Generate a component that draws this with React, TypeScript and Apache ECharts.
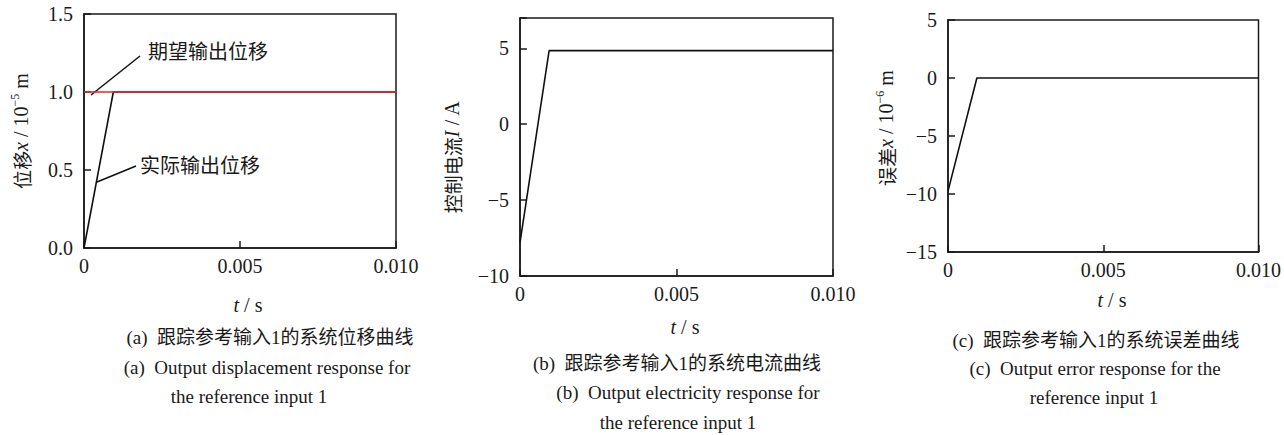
import React, { useEffect, useRef } from "react";
import * as echarts from "echarts";

// ---- data ----
const timeA = [0, 0.00094, 0.01];
const actualDisp = [0, 1.0, 1.0];
const timeDesired = [0, 0.01];
const desiredDisp = [1.0, 1.0];

const timeB = [0, 0.00093, 0.01];
const currentI = [-7.8, 4.85, 4.85];

const timeC = [0, 0.00093, 0.01];
const errorX = [-9.75, 0, 0];

const xTicks = [0, 0.005, 0.01];

const SERIF = "'Liberation Serif', 'Times New Roman', 'Noto Sans CJK SC', serif";
const CJK = "'Noto Sans CJK SC', 'Liberation Serif', serif";

const pairs = (xs: number[], ys: number[]) => xs.map((x, i) => [x, ys[i]]);
const minusFmt = (v: number) => (v < 0 ? "\u2212" + Math.abs(v) : String(v));

export default function App() {
  const ref = useRef<HTMLDivElement>(null);
  useEffect(() => {
    if (!ref.current) return;
    const chart = echarts.init(ref.current, undefined, { renderer: "svg" });

    const axisLineStyle = { color: "#1a1a1a", width: 1.5 };
    const mkX = (gi: number) => ({
      type: "value",
      gridIndex: gi,
      min: 0,
      max: 0.01,
      interval: 0.005,
      axisLine: { show: true, onZero: false, lineStyle: axisLineStyle },
      axisTick: { show: true, inside: true, length: 7, lineStyle: axisLineStyle },
      axisLabel: {
        margin: 8,
        fontSize: 20,
        fontFamily: SERIF,
        color: "#1a1a1a",
        formatter: (v: number) => (v === 0 ? "0" : v.toFixed(3)),
      },
      splitLine: { show: false },
    });
    const mkY = (gi: number, min: number, max: number, interval: number, fmt: (v: number) => string) => ({
      type: "value",
      gridIndex: gi,
      min,
      max,
      interval,
      axisLine: { show: true, onZero: false, lineStyle: axisLineStyle },
      axisTick: { show: true, inside: true, length: 7, lineStyle: axisLineStyle },
      axisLabel: { margin: 11, fontSize: 20, fontFamily: SERIF, color: "#1a1a1a", formatter: fmt },
      splitLine: { show: false },
    });

    const grid = (left: number, top: number, width: number, height: number) => ({
      left,
      top,
      width,
      height,
      show: true,
      borderColor: "#1a1a1a",
      borderWidth: 1.5,
      backgroundColor: "transparent",
    });

    const rich = {
      c: { fontFamily: CJK, fontSize: 19, fill: "#1a1a1a", lineHeight: 24 },
      i: { fontFamily: SERIF, fontStyle: "italic", fontSize: 20, fill: "#1a1a1a", lineHeight: 24 },
      n: { fontFamily: SERIF, fontSize: 20, fill: "#1a1a1a", lineHeight: 24 },
      s: { fontFamily: SERIF, fontSize: 12, fill: "#1a1a1a", verticalAlign: "top", lineHeight: 12 },
    };

    const txt = (x: number, y: number, text: string, extra: any = {}) => ({
      type: "text",
      x,
      y,
      style: {
        text,
        fontFamily: SERIF,
        fontSize: 19,
        fill: "#1a1a1a",
        align: "center",
        verticalAlign: "middle",
        ...extra,
      },
    });
    const richTxt = (x: number, y: number, text: string, rotation = 0) => ({
      type: "text",
      x,
      y,
      rotation,
      style: { text, rich, align: "center", verticalAlign: "middle" },
    });

    const option: any = {
      animation: false,
      backgroundColor: "#ffffff",
      grid: [grid(84, 14, 312, 234), grid(520, 18, 313, 258), grid(948, 20, 312, 232)],
      xAxis: [mkX(0), mkX(1), mkX(2)],
      yAxis: [
        mkY(0, 0, 1.5, 0.5, (v: number) => v.toFixed(1)),
        mkY(1, -10, 7, 5, (v: number) => (Math.abs(v % 5) < 1e-9 ? minusFmt(v) : "")),
        mkY(2, -15, 5, 5, minusFmt),
      ],
      series: [
        {
          type: "line",
          xAxisIndex: 0,
          yAxisIndex: 0,
          data: pairs(timeA, actualDisp),
          showSymbol: false,
          lineStyle: { color: "#111", width: 1.6 },
        },
        {
          type: "line",
          xAxisIndex: 0,
          yAxisIndex: 0,
          data: pairs(timeDesired, desiredDisp),
          showSymbol: false,
          lineStyle: { color: "#e8262b", width: 1.6 },
        },
        {
          type: "line",
          xAxisIndex: 1,
          yAxisIndex: 1,
          data: pairs(timeB, currentI),
          showSymbol: false,
          lineStyle: { color: "#111", width: 1.6 },
        },
        {
          type: "line",
          xAxisIndex: 2,
          yAxisIndex: 2,
          data: pairs(timeC, errorX),
          showSymbol: false,
          lineStyle: { color: "#111", width: 1.6 },
        },
      ],
      graphic: [
        // annotations panel (a)
        { type: "line", shape: { x1: 91, y1: 95, x2: 140, y2: 56 }, style: { stroke: "#111", lineWidth: 1.5 } },
        { type: "line", shape: { x1: 97, y1: 182, x2: 136, y2: 166 }, style: { stroke: "#111", lineWidth: 1.5 } },
        txt(148, 50, "期望输出位移", { align: "left", fontFamily: CJK, fontSize: 20 }),
        txt(140, 164, "实际输出位移", { align: "left", fontFamily: CJK, fontSize: 20 }),
        // y-axis names
        richTxt(21, 131, "{c|位移}{i|x}{n| / 10}{s|\u22125}{n| m}", Math.PI / 2),
        richTxt(452, 157, "{c|控制电流}{i|I}{n| / A}", Math.PI / 2),
        richTxt(886, 128, "{c|误差}{i|x}{n| / 10}{s|\u22126}{n| m}", Math.PI / 2),
        // x-axis names
        richTxt(248, 305, "{i|t}{n| / s}"),
        richTxt(685, 327, "{i|t}{n| / s}"),
        richTxt(1112, 300, "{i|t}{n| / s}"),
        // captions (a)
        txt(270, 337, "(a)  跟踪参考输入1的系统位移曲线"),
        txt(267, 367, "(a)  Output displacement response for"),
        txt(249, 396, "the reference input 1"),
        // captions (b)
        txt(677, 363, "(b)  跟踪参考输入1的系统电流曲线"),
        txt(688, 392, "(b)  Output electricity response for"),
        txt(678, 422, "the reference input 1"),
        // captions (c)
        txt(1096, 340, "(c)  跟踪参考输入1的系统误差曲线"),
        txt(1095, 368, "(c)  Output error response for the"),
        txt(1094, 397, "reference input 1"),
      ],
    };
    chart.setOption(option);
    return () => chart.dispose();
  }, []);

  return (
    <div
      ref={ref}
      style={{ position: "absolute", left: 0, top: 0, width: 1284, height: 435, background: "#fff" }}
    />
  );
}
